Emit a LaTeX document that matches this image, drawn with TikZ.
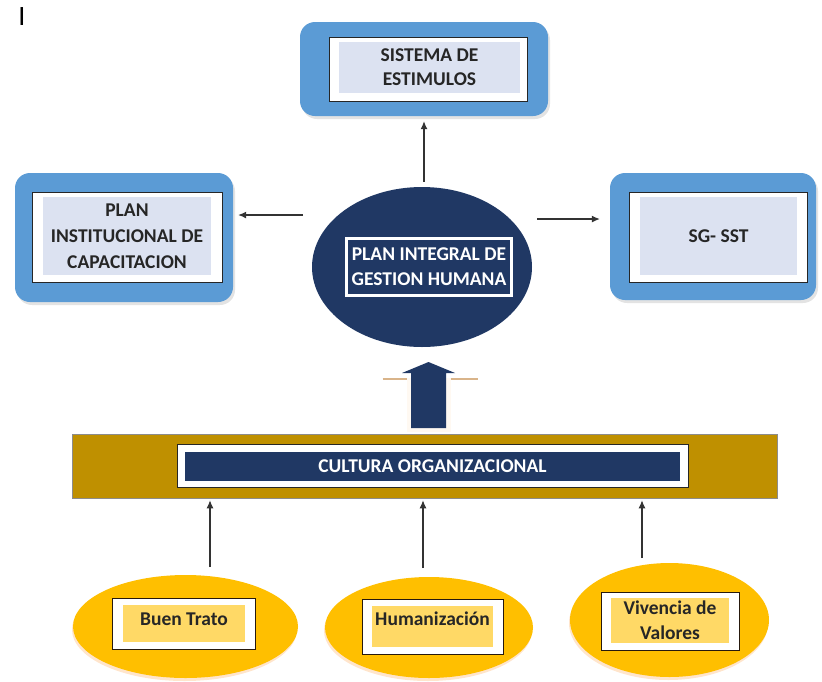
\documentclass[tikz,border=0pt]{standalone}
\usepackage{fontspec}
\setmainfont{Carlito}
\usetikzlibrary{shapes,arrows,positioning,arrows.meta,calc,shadows}

\definecolor{frameblue}{HTML}{5B9BD5}
\definecolor{paleblue}{HTML}{DCE2F1}
\definecolor{navy}{HTML}{203864}
\definecolor{goldbar}{HTML}{BF9000}
\definecolor{ambar}{HTML}{FFBF00}
\definecolor{softyellow}{HTML}{FFD966}
\definecolor{wingtan}{HTML}{D9B48A}

\begin{document}
\begin{tikzpicture}[
        x=1pt, y=-1pt,
        every node/.style={font=\fontsize{19.5}{24}\selectfont\bfseries, inner sep=0pt},
        outerbox/.style={rectangle, rounded corners=15pt, fill=frameblue, drop shadow={shadow xshift=2pt, shadow yshift=-3pt, fill=black!22}},
        whitebox/.style={rectangle, fill=white, draw=black!85, line width=0.9pt},
        palebox/.style={rectangle, fill=paleblue, align=center, text=black!85},
        navybox/.style={rectangle, fill=navy, align=center, text=white},
        oval/.style={ellipse, fill=ambar, drop shadow={shadow xshift=-1pt, shadow yshift=-3pt, fill=orange!20, opacity=1}},
        yellowbox/.style={rectangle, fill=softyellow, align=center, text=black!85},
        tag/.style={font=\fontsize{19.5}{24}\selectfont\bfseries, text=black!85},
        line/.style={-{Latex[length=8pt,width=7pt]}, line width=1.1pt, draw=black!80}
    ]
        \useasboundingbox (0,0) rectangle (822,681);
        \node[font=\fontsize{28}{28}\selectfont, text=black] (cursor) at (22,17) {I};

        \node[outerbox, minimum width=248pt, minimum height=94pt] (sistout) at (424,69) {};
        \node[whitebox, minimum width=198pt, minimum height=64pt] (sistwhite) at (428,69) {};
        \node[palebox, minimum width=181pt, minimum height=51pt] (sist) at (429.5,67.5) {SISTEMA DE\\ESTIMULOS};

        \node[outerbox, minimum width=218pt, minimum height=129pt] (capout) at (124,237.5) {};
        \node[whitebox, minimum width=190pt, minimum height=90pt] (capwhite) at (127,237) {};
        \node[palebox, minimum width=168pt, minimum height=78pt, font=\fontsize{19.5}{26}\selectfont\bfseries] (cap) at (127,236) {PLAN\\INSTITUCIONAL DE\\CAPACITACION};

        \node[outerbox, minimum width=206pt, minimum height=127pt] (sstout) at (713,236.5) {};
        \node[whitebox, minimum width=178pt, minimum height=90pt] (sstwhite) at (718,237) {};
        \node[palebox, minimum width=157pt, minimum height=78pt] (sst) at (718.5,236) {SG- SST};

        \node[ellipse, fill=navy, minimum width=220pt, minimum height=160pt] (gestout) at (422,267) {};
        \node[rectangle, fill=white, minimum width=168pt, minimum height=60pt] (gestwhite) at (429,267) {};
        \node[navybox, minimum width=162pt, minimum height=54pt, font=\fontsize{19.5}{25}\selectfont\bfseries] (gestion) at (429,267) {PLAN INTEGRAL DE\\GESTION HUMANA};

        \draw[line, shorten >=5pt] ([yshift=5pt]gestout.north -| sistout.south) -- (sistout.south);
        \coordinate (lfrom) at (303,215);
        \coordinate (rfrom) at (537,219);
        \draw[line, shorten >=5pt] (lfrom) -- (capout.east |- lfrom);
        \draw[line, shorten >=10pt] (rfrom) -- (sstout.west |- rfrom);

        \coordinate (flow) at (428.5,428);
        \fill[orange!5, shift={(flow)}] (-22,4) rectangle (22,-50);
        \draw[wingtan, line width=2pt, shift={(flow)}] (-46,-49) -- (-22,-49) (22,-49) -- (49,-49);
        \fill[navy, shift={(flow)}] (-17.5,0) -- (-17.5,-55) -- (-26.5,-55) -- (0,-66) -- (26.5,-55) -- (17.5,-55) -- (17.5,0) -- cycle;

        \node[rectangle, fill=goldbar, draw=black!45, line width=0.6pt, minimum width=705pt, minimum height=64pt] (cultout) at (424.5,466) {};
        \node[whitebox, minimum width=511pt, minimum height=43pt] (cultwhite) at (432.5,465.5) {};
        \node[navybox, minimum width=495pt, minimum height=29pt] (cultura) at (432.5,466.5) {CULTURA ORGANIZACIONAL};

        \node[oval, minimum width=225pt, minimum height=103pt] (trato) at (185.5,626.5) {};
        \node[whitebox, draw=black!80!brown, minimum width=143pt, minimum height=51pt] (tratowhite) at (183.5,623.5) {};
        \node[yellowbox, minimum width=122pt, minimum height=37pt, label={[tag, yshift=4.5pt]center:Buen Trato}] (buen) at (184,623.5) {};

        \node[oval, minimum width=208pt, minimum height=101pt] (humout) at (429,627.5) {};
        \node[whitebox, draw=black!80!brown, minimum width=141pt, minimum height=55pt] (humwhite) at (432.5,626.5) {};
        \node[yellowbox, minimum width=121pt, minimum height=41pt, label={[tag, yshift=7.5pt]center:Humanizaci\'on}] (human) at (432.5,626.5) {};

        \node[oval, minimum width=199pt, minimum height=114pt] (valout) at (669.5,620) {};
        \node[whitebox, draw=black!80!brown, minimum width=138pt, minimum height=58pt] (valwhite) at (670,621) {};
        \node[yellowbox, minimum width=118pt, minimum height=45pt, font=\fontsize{19.5}{25}\selectfont\bfseries] (valores) at (670,620.5) {Vivencia de\\Valores};

        \coordinate (b1) at (210,567);
        \coordinate (b2) at (423,568);
        \coordinate (b3) at (642,558);
        \draw[line, shorten >=2pt] (b1) -- (cultout.south -| b1);
        \draw[line, shorten >=2pt] (b2) -- (cultout.south -| b2);
        \draw[line, shorten >=2pt] (b3) -- (cultout.south -| b3);
    \end{tikzpicture}
\end{document}
